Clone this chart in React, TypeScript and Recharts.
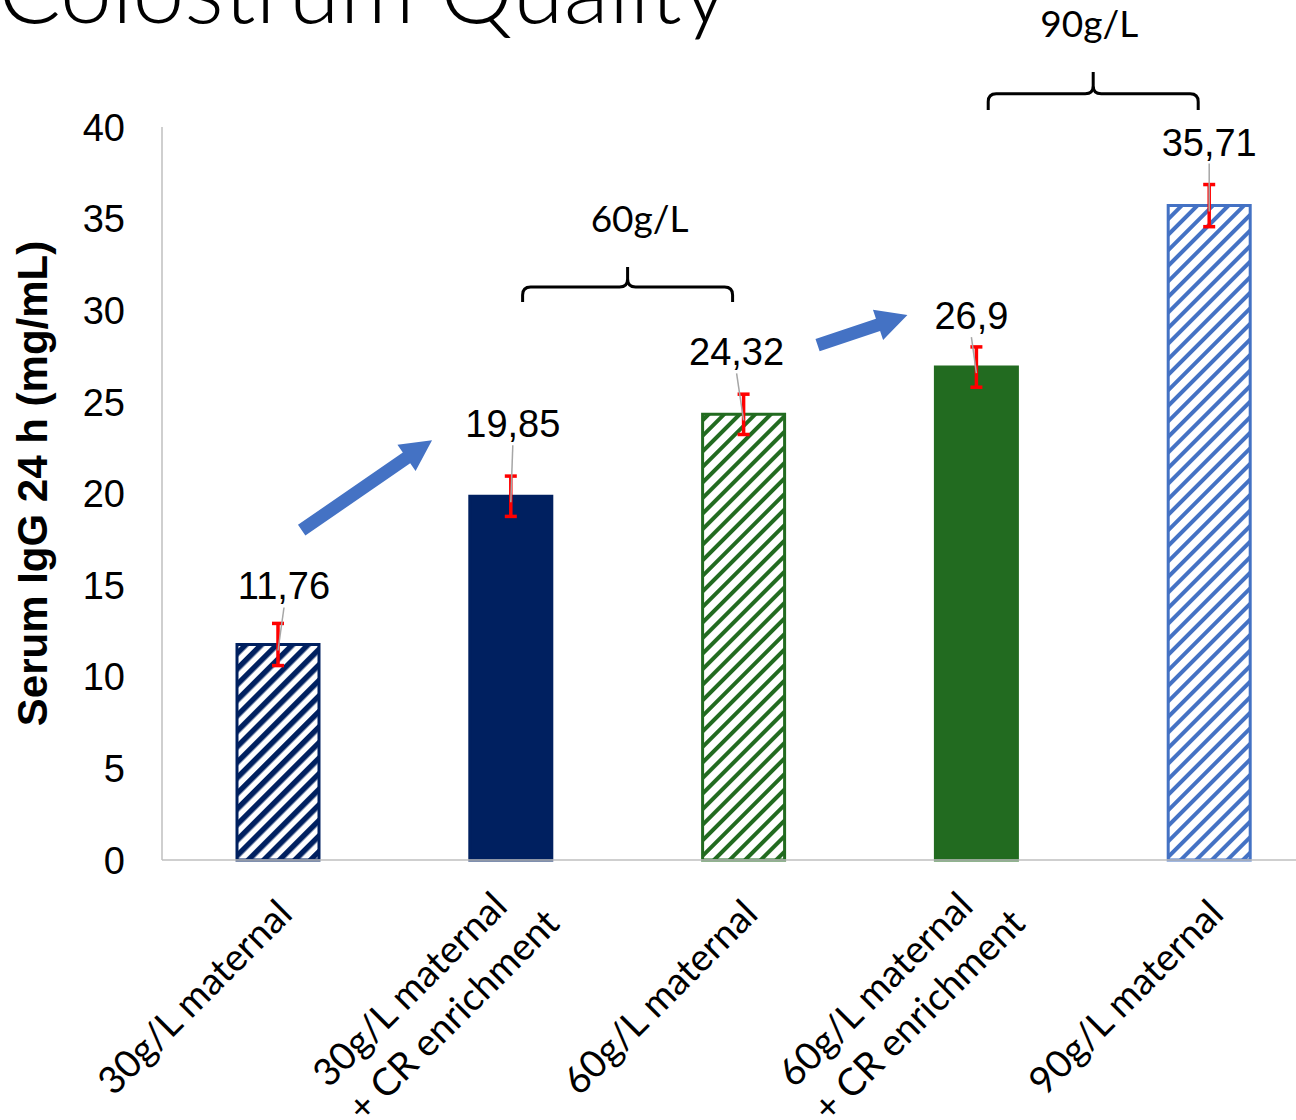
import React from 'react';
import { BarChart, Bar, XAxis, YAxis, ErrorBar, Cell, LabelList, ReferenceArea } from 'recharts';

// categories (line break = second line of the axis label)
const categories = [
	'30g/L maternal',
	'30g/L maternal\n+ CR enrichment',
	'60g/L maternal',
	'60g/L maternal\n+ CR enrichment',
	'90g/L maternal',
];
const iggValues = [11.76, 19.85, 24.32, 26.9, 35.71];
const iggError = [1.15, 1.1, 1.1, 1.1, 1.15];
const valueLabels = ['11,76', '19,85', '24,32', '26,9', '35,71'];
const yTicks = [0, 5, 10, 15, 20, 25, 30, 35, 40];

const NAVY = '#002060';
const GREEN = '#226B20';
const BLUE = '#4472C4';

const barFills = ['url(#hatchNavy)', NAVY, 'url(#hatchGreen)', GREEN, 'url(#hatchBlue)'];
const barStrokes = [NAVY, NAVY, GREEN, GREEN, BLUE];

// manual nudges of the data labels (Excel labels were dragged by hand)
const labelNudge = [
	{ dx: 6, lift: 45 },
	{ dx: 2, lift: 59 },
	{ dx: -7, lift: 49 },
	{ dx: -5, lift: 38 },
	{ dx: 0, lift: 50 },
];

const data = categories.map((name, i) => ({
	name,
	igg: iggValues[i],
	err: iggError[i],
	label: valueLabels[i],
}));

const NUM_FONT = '"Liberation Sans", Arial, sans-serif';
const TXT_FONT = 'Lato, "Open Sans", sans-serif';

const YTick = (props: any) => {
	const { x, y, payload } = props;
	return (
		<text x={x} y={y} dy="0.36em" textAnchor="end" fontFamily={NUM_FONT} fontSize={38} fill="#000">
			{payload.value}
		</text>
	);
};

// rotated category labels, lines left-aligned like Excel does it
const XTick = (props: any) => {
	const { x, y, payload } = props;
	const lines = String(payload.value).split('\n');
	const multi = lines.length > 1;
	const start = multi ? -291 : -284;
	const base = multi ? 33 : 51;
	return (
		<g transform={`translate(${x},${y}) rotate(-45)`}>
			{lines.map((ln, i) => (
				<text key={i} x={start} y={base + i * 49} textAnchor="start" fontFamily={TXT_FONT} fontSize={38} fill="#000">
					{ln}
				</text>
			))}
		</g>
	);
};

const YLabel = (props: any) => {
	const vb = props.viewBox || { x: 0, y: 127, width: 162, height: 733 };
	const cy = vb.y + vb.height / 2 - 10;
	return (
		<text
			x={47}
			y={cy}
			transform={`rotate(-90, 47, ${cy})`}
			textAnchor="middle"
			fontFamily={NUM_FONT}
			fontWeight="bold"
			fontSize={42}
			fill="#000"
		>
			Serum IgG 24 h (mg/mL)
		</text>
	);
};

const ValueLabel = (props: any) => {
	const { x, y, width, value } = props;
	let idx = props.index;
	if (idx == null) idx = valueLabels.indexOf(value);
	const n = labelNudge[idx] || { dx: 0, lift: 48 };
	const cx = x + width / 2;
	const base = y - n.lift;
	return (
		<g>
			<line x1={cx + n.dx} y1={base + 8} x2={cx} y2={y + 6} stroke="#A6A6A6" strokeWidth={1.5} />
			<text x={cx + n.dx} y={base} textAnchor="middle" fontFamily={NUM_FONT} fontSize={38} fill="#000">
				{value}
			</text>
		</g>
	);
};

// curly brace spanning two bars, drawn inside the reference area box
const braceShape = (text: string, textDx: number) => (p: any) => {
	const { x, y, width, height } = p;
	const mid = x + width / 2;
	const half = width * 0.2255;
	const l = mid - half;
	const r = mid + half;
	const yTop = y;
	const yBot = y + height;
	const yBar = y + height * 0.57;
	const c = 8;
	const d =
		`M${l},${yBot} L${l},${yBar + c} Q${l},${yBar} ${l + c},${yBar} L${mid - c},${yBar} Q${mid},${yBar} ${mid},${yBar - c} L${mid},${yTop} ` +
		`M${mid},${yBar - c} Q${mid},${yBar} ${mid + c},${yBar} L${r - c},${yBar} Q${r},${yBar} ${r},${yBar + c} L${r},${yBot}`;
	return (
		<g>
			<path d={d} fill="none" stroke="#000" strokeWidth={3} />
			<text x={mid + textDx} y={yTop - 35} textAnchor="middle" fontFamily={TXT_FONT} fontSize={37} fill="#000">
				{text}
			</text>
		</g>
	);
};

// block arrow from lower-left to upper-right of the reference area box
const arrowShape = (f0: number, f1: number) => (p: any) => {
	const { x, y, width, height } = p;
	const x0 = x + f0 * width;
	const y0 = y + height;
	const x1 = x + f1 * width;
	const y1 = y;
	const len = Math.hypot(x1 - x0, y1 - y0);
	const ux = (x1 - x0) / len;
	const uy = (y1 - y0) / len;
	const nx = -uy;
	const ny = ux;
	const hl = 31;
	const hw = 16;
	const sw = 6.5;
	const bx = x1 - ux * hl;
	const by = y1 - uy * hl;
	const pts = [
		[x0 + nx * sw, y0 + ny * sw],
		[bx + nx * sw, by + ny * sw],
		[bx + nx * hw, by + ny * hw],
		[x1, y1],
		[bx - nx * hw, by - ny * hw],
		[bx - nx * sw, by - ny * sw],
		[x0 - nx * sw, y0 - ny * sw],
	];
	return <polygon points={pts.map((q) => q.join(',')).join(' ')} fill={BLUE} />;
};

const hatch = (id: string, color: string, w: number) => (
	<pattern id={id} patternUnits="userSpaceOnUse" width={11} height={11} patternTransform="rotate(45)">
		<rect width={11} height={11} fill="#fff" />
		<rect x={0} y={0} width={w} height={11} fill={color} />
	</pattern>
);

export default function App() {
	return (
		<div style={{ position: 'absolute', left: 0, top: 0, width: 1296, height: 1120, overflow: 'hidden', background: '#fff' }}>
			<svg width={1296} height={70} style={{ position: 'absolute', left: 0, top: 0, zIndex: 2 }}>
				<text x={-2} y={23} fontFamily={TXT_FONT} fontWeight={300} fontSize={93} fill="#000">
					Colostrum Quality
				</text>
			</svg>
			<BarChart width={1330} height={1120} data={data} margin={{ top: 127, right: 4, bottom: 0, left: 0 }}>
				<defs>
					{hatch('hatchNavy', NAVY, 5.5)}
					{hatch('hatchGreen', GREEN, 4)}
					{hatch('hatchBlue', BLUE, 4)}
				</defs>
				<XAxis
					dataKey="name"
					height={260}
					interval={0}
					tickLine={false}
					tickSize={0}
					tickMargin={0}
					axisLine={{ stroke: '#BFBFBF', strokeWidth: 1.5 }}
					tick={<XTick />}
				/>
				<YAxis
					domain={[0, 40]}
					ticks={yTicks}
					interval={0}
					width={162}
					tickLine={false}
					tickSize={0}
					tickMargin={37}
					axisLine={{ stroke: '#BFBFBF', strokeWidth: 1.5 }}
					tick={<YTick />}
					label={<YLabel />}
				/>
				<Bar dataKey="igg" barSize={82} strokeWidth={3} isAnimationActive={false}>
					{data.map((_, i) => (
						<Cell key={i} fill={barFills[i]} stroke={barStrokes[i]} />
					))}
					<ErrorBar dataKey="err" direction="y" width={6} strokeWidth={3.5} stroke="#FF0000" isAnimationActive={false} />
					<LabelList dataKey="label" content={<ValueLabel />} />
				</Bar>
				<ReferenceArea
					x1={categories[1]}
					x2={categories[2]}
					y1={30.45}
					y2={32.36}
					ifOverflow="visible"
					shape={braceShape('60g/L', 12)}
				/>
				<ReferenceArea
					x1={categories[3]}
					x2={categories[4]}
					y1={40.93}
					y2={43.0}
					ifOverflow="visible"
					shape={braceShape('90g/L', -4)}
				/>
				<ReferenceArea x1={categories[0]} x2={categories[1]} y1={18.0} y2={22.9} ifOverflow="visible" shape={arrowShape(0.3, 0.58)} />
				<ReferenceArea x1={categories[2]} x2={categories[3]} y1={28.1} y2={29.74} ifOverflow="visible" shape={arrowShape(0.408, 0.601)} />
			</BarChart>
		</div>
	);
}
